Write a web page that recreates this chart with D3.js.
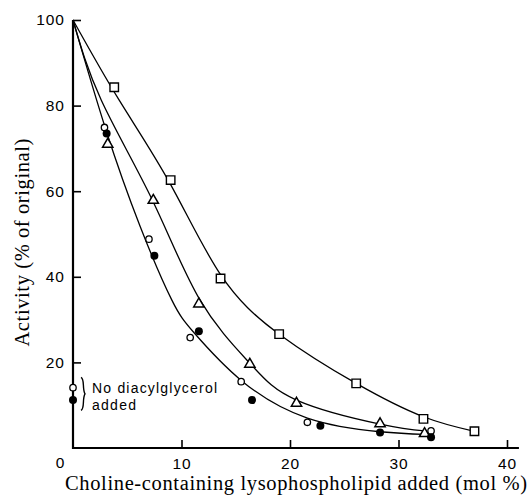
<!DOCTYPE html>
<html>
<head>
<meta charset="utf-8">
<script src="https://cdn.jsdelivr.net/npm/d3@7"></script>
<style>
  body { margin: 0; background: #fff; }
  svg { display: block; }
</style>
</head>
<body>
<div id="chart"></div>
<script>
// --- data ---
var squareX = [3.8, 9.0, 13.6, 19.0, 26.1, 32.3, 37.0]
var squareY = [84.3, 62.6, 39.6, 26.6, 15.1, 6.8, 3.9]

var triangleX = [3.2, 7.4, 11.6, 16.3, 20.6, 28.3, 32.4]
var triangleY = [71.2, 58.1, 33.9, 19.8, 10.7, 5.9, 3.6]

var openX = [0, 2.9, 7.0, 10.8, 15.5, 21.6, 33.0]
var openY = [14.1, 74.9, 48.8, 25.8, 15.5, 6.0, 4.0]

var filledX = [0, 3.1, 7.5, 11.6, 16.5, 22.8, 28.3, 33.0]
var filledY = [11.2, 73.5, 44.9, 27.3, 11.2, 5.2, 3.6, 2.5]

// fitted curves
var squareFitX = [0, 4.2, 8.9, 13.6, 19.0, 26.1, 32.3, 37.0]
var squareFitY = [100, 81.5, 62.0, 40.5, 26.6, 15.1, 7.3, 3.9]

var triangleFitX = [0, 2.6, 7.3, 11.7, 16.3, 20.6, 28.3, 32.4]
var triangleFitY = [100, 81.3, 58.0, 34.6, 19.8, 11.2, 5.6, 4.0]

var circleFitX = [0, 3.0, 6.2, 9.1, 11.2, 15.5, 21.6, 28.3, 32.4]
var circleFitY = [100, 74.6, 51.7, 34.6, 26.8, 15.8, 7.0, 3.8, 3.2]

var xTicks = [10, 20, 30, 40]
var yTicks = [20, 40, 60, 80, 100]

var width = 532
var height = 497

var svg = d3.select("#chart")
  .append("svg")
    .attr("width", width)
    .attr("height", height)

var x = d3.scaleLinear().domain([0, 40]).range([73, 507])
var y = d3.scaleLinear().domain([0, 100]).range([448, 20])

var zip = (xs, ys) => xs.map((v, i) => [v, ys[i]])

// axes
var yAxis = d3.axisLeft(y).tickValues(yTicks).tickSizeInner(-8).tickSizeOuter(0).tickPadding(8)
var gy = svg.append("g").attr("transform", "translate(" + x(0) + ",0)").call(yAxis)
gy.select(".domain").remove()

var xAxis = d3.axisBottom(x).tickValues(xTicks).tickSizeInner(-8).tickSizeOuter(0).tickPadding(10)
var gx = svg.append("g").attr("transform", "translate(0," + y(0) + ")").call(xAxis)
gx.select(".domain").remove()

svg.selectAll(".tick line").attr("stroke", "#000").attr("stroke-width", 1.6)
svg.selectAll(".tick text")
  .attr("font-family", "'Liberation Sans', Arial, sans-serif")
  .attr("font-size", 15.5)
  .attr("letter-spacing", 1)
  .attr("fill", "#000")

// origin label
svg.append("text")
  .attr("x", x(0) - 13)
  .attr("y", y(0) + 20)
  .attr("text-anchor", "middle")
  .attr("font-family", "'Liberation Sans', Arial, sans-serif")
  .attr("font-size", 15.5)
  .text("0")

// axis lines
svg.append("line")
  .attr("x1", x(0)).attr("x2", x(0))
  .attr("y1", y(100)).attr("y2", y(0) + 1)
  .attr("stroke", "#000").attr("stroke-width", 2.2)
svg.append("line")
  .attr("x1", x(0)).attr("x2", x(41.1))
  .attr("y1", y(0)).attr("y2", y(0))
  .attr("stroke", "#000").attr("stroke-width", 2)

// axis titles
svg.append("text")
  .attr("transform", "translate(29," + y(48) + ") rotate(-90)")
  .attr("text-anchor", "middle")
  .attr("font-family", "'Liberation Serif', 'Times New Roman', serif")
  .attr("font-size", 20.5)
  .attr("textLength", 208)
  .attr("lengthAdjust", "spacing")
  .text("Activity (% of original)")

svg.append("text")
  .attr("x", 296)
  .attr("y", 490)
  .attr("text-anchor", "middle")
  .attr("font-family", "'Liberation Serif', 'Times New Roman', serif")
  .attr("font-size", 20.5)
  .attr("textLength", 462)
  .attr("lengthAdjust", "spacing")
  .text("Choline-containing lysophospholipid added (mol %)")

// fitted curves
var line = d3.line()
  .x(d => x(d[0]))
  .y(d => y(d[1]))
  .curve(d3.curveNatural)

;[zip(squareFitX, squareFitY), zip(triangleFitX, triangleFitY), zip(circleFitX, circleFitY)]
  .forEach(function(pts) {
    svg.append("path")
      .attr("d", line(pts))
      .attr("fill", "none")
      .attr("stroke", "#000")
      .attr("stroke-width", 1.3)
  })

// markers
svg.append("g").selectAll("path")
  .data(zip(squareX, squareY))
  .join("path")
    .attr("transform", d => "translate(" + x(d[0]) + "," + y(d[1]) + ")")
    .attr("d", d3.symbol(d3.symbolSquare, 72))
    .attr("fill", "#fff")
    .attr("stroke", "#000")
    .attr("stroke-width", 1.4)

svg.append("g").selectAll("path")
  .data(zip(triangleX, triangleY))
  .join("path")
    .attr("transform", d => "translate(" + x(d[0]) + "," + (y(d[1]) + 1) + ")")
    .attr("d", d3.symbol(d3.symbolTriangle, 46))
    .attr("fill", "#fff")
    .attr("stroke", "#000")
    .attr("stroke-width", 1.5)

svg.append("g").selectAll("circle")
  .data(zip(openX, openY))
  .join("circle")
    .attr("cx", d => x(d[0]))
    .attr("cy", d => y(d[1]))
    .attr("r", 3.2)
    .attr("fill", "#fff")
    .attr("stroke", "#000")
    .attr("stroke-width", 1.3)

svg.append("g").selectAll("circle")
  .data(zip(filledX, filledY))
  .join("circle")
    .attr("cx", d => x(d[0]))
    .attr("cy", d => y(d[1]))
    .attr("r", 4)
    .attr("fill", "#000")

// "No diacylglycerol added" note with brace
var bx = x(0) + 8, bTop = y(16.5), bBot = y(8.8), bMid = (bTop + bBot) / 2
svg.append("path")
  .attr("d", "M" + bx + "," + bTop +
    " C" + (bx + 4) + "," + (bTop + 2) + " " + (bx + 1) + "," + (bMid - 5) + " " + (bx + 4) + "," + bMid +
    " C" + (bx + 1) + "," + (bMid + 5) + " " + (bx + 4) + "," + (bBot - 2) + " " + bx + "," + bBot)
  .attr("fill", "none")
  .attr("stroke", "#000")
  .attr("stroke-width", 1.4)

var note = svg.append("text")
  .attr("font-family", "'Liberation Sans', Arial, sans-serif")
  .attr("font-size", 14)
note.append("tspan").attr("x", 92).attr("y", 393)
  .attr("textLength", 125).attr("lengthAdjust", "spacing")
  .text("No diacylglycerol")
note.append("tspan").attr("x", 92).attr("y", 409.5)
  .attr("textLength", 44).attr("lengthAdjust", "spacing")
  .text("added")
</script>
</body>
</html>
